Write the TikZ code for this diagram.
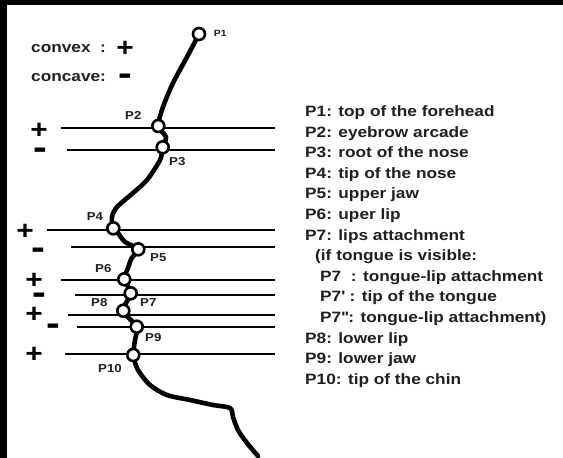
\documentclass[tikz,border=0pt]{standalone}
\usepackage{fontspec}
\setmainfont[FakeStretch=1.15]{Liberation Sans}
% signs in tight boxes, centred on their strokes
\newcommand{\plusmark}{\raisebox{-8.6pt}[7pt][7pt]{+}}
\newcommand{\minusmark}{\raisebox{-9pt}[2.5pt][2.5pt]{-}}
\begin{document}
\begin{tikzpicture}[x=1pt,y=-1pt,
  profile/.style={line width=4.6pt, line join=round, line cap=round},
  guide/.style={line width=2.3pt},
  landmark/.style={circle, draw, fill=white, line width=2.6pt, minimum size=12pt, inner sep=0pt},
  plabel/.style={font=\bfseries\fontsize{11.5}{11.5}\selectfont, text=black!88, inner sep=0pt},
  item/.style={font=\bfseries\fontsize{15}{15}\selectfont, text=black!88, anchor=base west, inner sep=0pt},
  plussign/.style={font=\bfseries\fontsize{26}{26}\selectfont, inner sep=0pt},
  minussign/.style={font=\bfseries\fontsize{36}{36}\selectfont, inner sep=0pt}]

\useasboundingbox (0,0) rectangle (563,458);
\fill[white] (0,0) rectangle (563,458);
% frame bands
\fill[black] (0,0) rectangle (563,4.5);
\fill[black] (0,0) rectangle (6.5,458);

% legend
\node[item] (cvx) at (31,52.7) {convex\ \ :};
\node[plussign] (cvxs) at (125,48) {\plusmark};
\node[item] (ccv) at (31,81) {concave:};
\node[minussign] (ccvs) at (125,76) {\minusmark};

% right end of the guide lines
\coordinate (rend) at (275,0);
% left ends of the guide lines
\coordinate (g2) at (61,128.3);
\coordinate (g3) at (67,150.3);
\coordinate (g4) at (47,230);
\coordinate (g5) at (71,246.7);
\coordinate (g6) at (61,280);
\coordinate (g7) at (75,295);
\coordinate (g8) at (68,315);
\coordinate (g9) at (77,327.3);
\coordinate (g10) at (65,354.3);
\foreach \g in {g2,g3,g4,g5,g6,g7,g8,g9,g10}
  \draw[guide] (\g) -- (\g -| rend);

% curvature signs
\node[plussign]  (s2)  at (39,130)   {\plusmark};
\node[minussign] (s3)  at (40,150.7) {\minusmark};
\node[plussign]  (s4)  at (25,230.7) {\plusmark};
\node[minussign] (s5)  at (38,250.7) {\minusmark};
\node[plussign]  (s6)  at (34,280)   {\plusmark};
\node[minussign] (s7)  at (39,295)   {\minusmark};
\node[plussign]  (s8)  at (34,314.3) {\plusmark};
\node[minussign] (s9)  at (53,326.7) {\minusmark};
\node[plussign]  (s10) at (34,354.3) {\plusmark};

% landmark positions
\coordinate (p1) at (199,34);
\coordinate (p2) at (158.3,126);
\coordinate (p3) at (162.7,147.3);
\coordinate (p4) at (113.3,228.3);
\coordinate (p5) at (138.3,249.3);
\coordinate (p6) at (124.3,279.3);
\coordinate (p7) at (130.7,293.3);
\coordinate (p8) at (123.3,310.7);
\coordinate (p9) at (136.7,326.7);
\coordinate (p10) at (133.3,355);
\coordinate (chin) at (258,456);

% facial profile
\draw[profile] plot[smooth, tension=0.5] coordinates {
  (p1) (187,57) (173,83) (163,107) (p2) (166,137) (p3)
  (160,160) (147,180) (133,193) (117,207) (112,217) (p4)
  (118,233) (125,242) (p5) (131.7,258) (128,268) (p6)
  (p7) (p8) (p9) (135,340) (p10)
  (138,370) (150,385) (167,395) (190,400) (213,405) (230,408)
  (233,417) (238,430) (247,443) (chin)};

% landmark circles
\foreach \p in {p1,p2,p3,p4,p5,p6,p7,p8,p9,p10}
  \node[landmark] (c\p) at (\p) {};

% landmark labels
\node[plabel, font=\bfseries\fontsize{9}{9}\selectfont] (lp1) at (220.3,33.3) {P1};
\node[plabel] (lp2) at (133.3,115) {P2};
\node[plabel] (lp3) at (177.3,161.7) {P3};
\node[plabel] (lp4) at (95,216.7) {P4};
\node[plabel] (lp5) at (158.3,257.3) {P5};
\node[plabel] (lp6) at (103.3,268.3) {P6};
\node[plabel] (lp7) at (148.3,302.7) {P7};
\node[plabel] (lp8) at (99.3,302.7) {P8};
\node[plabel] (lp9) at (153.3,337.7) {P9};
\node[plabel] (lp10) at (110,368.3) {P10};

% key to the landmarks
\node[item] (k1)  at (305,116.5) {P1: top of the forehead};
\node[item] (k2)  at (305,137.1) {P2: eyebrow arcade};
\node[item] (k3)  at (305,157.7) {P3: root of the nose};
\node[item] (k4)  at (305,178.3) {P4: tip of the nose};
\node[item] (k5)  at (305,198.9) {P5: upper jaw};
\node[item] (k6)  at (305,219.5) {P6: uper lip};
\node[item] (k7)  at (305,240.1) {P7: lips attachment};
\node[item] (k8)  at (315,260.7) {(if tongue is visible:};
\node[item] (k9)  at (320,281.3) {P7\ \ : tongue-lip attachment};
\node[item] (k10) at (320,301.9) {P7\textquotesingle\ : tip of the tongue};
\node[item] (k11) at (320,322.5) {P7\textquotesingle\textquotesingle: tongue-lip attachment)};
\node[item] (k12) at (305,343.1) {P8: lower lip};
\node[item] (k13) at (305,363.7) {P9: lower jaw};
\node[item] (k14) at (305,384.3) {P10: tip of the chin};
\end{tikzpicture}
\end{document}
